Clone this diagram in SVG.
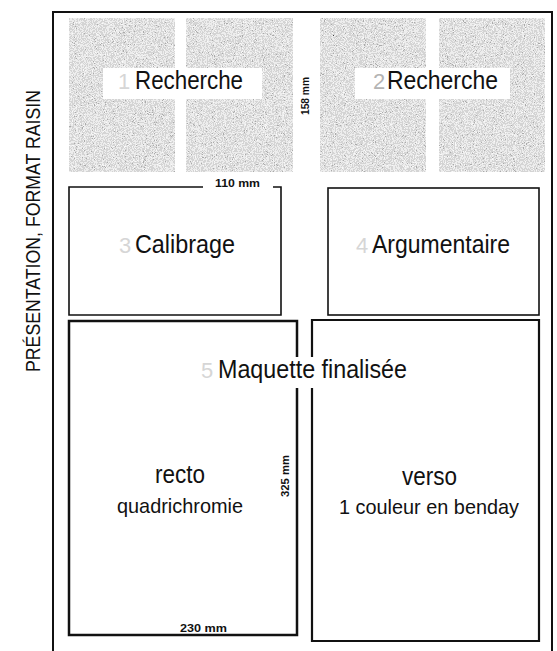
<svg xmlns="http://www.w3.org/2000/svg" width="557" height="651" viewBox="0 0 557 651">
<style>
.lbl{font-family:"Liberation Sans",Arial,sans-serif;fill:#111;}
.num{font-family:"Liberation Sans",Arial,sans-serif;fill:#d6d6d6;font-size:22px;}
.dim{font-family:"Liberation Sans",Arial,sans-serif;font-weight:bold;fill:#111;font-size:11px;}
.box{fill:none;stroke:#111;}
.grey{filter:url(#stipple);}
</style>
<defs>
<filter id="stipple" x="0" y="0" width="1" height="1" filterUnits="objectBoundingBox">
<feTurbulence type="fractalNoise" baseFrequency="1.1" numOctaves="2" seed="7" result="t"/>
<feColorMatrix in="t" type="saturate" values="0" result="g"/>
<feComponentTransfer in="g">
<feFuncR type="discrete" tableValues="0.05 0.4 0.66 0.85 0.96 1"/>
<feFuncG type="discrete" tableValues="0.05 0.4 0.66 0.85 0.96 1"/>
<feFuncB type="discrete" tableValues="0.05 0.4 0.66 0.85 0.96 1"/>
<feFuncA type="linear" slope="0" intercept="1"/>
</feComponentTransfer>
</filter>
</defs>
<rect width="557" height="651" fill="#fff"/>
<g id="frame">
<path d="M53,651 V12 H552 V651" fill="none" stroke="#111" stroke-width="2"/>
<text class="lbl" font-size="20" transform="translate(40,372) rotate(-90)" textLength="282" lengthAdjust="spacingAndGlyphs">PRÉSENTATION, FORMAT RAISIN</text>
</g>
<g id="recherche1">
<rect class="grey" x="69" y="18" width="106" height="154" fill="#bbb"/>
<rect class="grey" x="186" y="18" width="107" height="154" fill="#bbb"/>
<rect x="103" y="68" width="159" height="31" fill="#fff"/>
<text class="num" x="118" y="89">1</text>
<text class="lbl" font-size="26" x="135" y="89" textLength="108" lengthAdjust="spacingAndGlyphs">Recherche</text>
</g>
<g id="recherche2">
<rect class="grey" x="320" y="18" width="106" height="154" fill="#bbb"/>
<rect class="grey" x="439" y="18" width="106" height="154" fill="#bbb"/>
<rect x="355" y="68" width="155" height="31" fill="#fff"/>
<text class="num" x="373" y="89" style="fill:#b4b4b4">2</text>
<text class="lbl" font-size="26" x="387" y="89" textLength="111" lengthAdjust="spacingAndGlyphs">Recherche</text>
</g>
<g id="dim158">
<text class="dim" transform="translate(309,115) rotate(-90)" textLength="38" lengthAdjust="spacingAndGlyphs">158 mm</text>
</g>
<g id="calibrage">
<path class="box" stroke-width="1.6" d="M203,187 H69 V315 H281 V187 H273"/>
<text class="dim" x="215" y="187" textLength="45" lengthAdjust="spacingAndGlyphs">110 mm</text>
<text class="num" x="119" y="253">3</text>
<text class="lbl" font-size="26" x="135" y="253" textLength="100" lengthAdjust="spacingAndGlyphs">Calibrage</text>
</g>
<g id="argumentaire">
<rect class="box" stroke-width="1.6" x="328" y="188" width="211" height="127"/>
<text class="num" x="356" y="253">4</text>
<text class="lbl" font-size="26" x="372" y="253" textLength="138" lengthAdjust="spacingAndGlyphs">Argumentaire</text>
</g>
<g id="recto">
<path class="box" stroke-width="2.5" d="M297,357 V321 H69 V635 H297 V388"/>
<text class="lbl" font-size="25" x="155" y="483" textLength="50" lengthAdjust="spacingAndGlyphs">recto</text>
<text class="lbl" font-size="21" x="117" y="513" textLength="126" lengthAdjust="spacingAndGlyphs">quadrichromie</text>
<text class="dim" transform="translate(289,497) rotate(-90)" textLength="42" lengthAdjust="spacingAndGlyphs">325 mm</text>
<text class="dim" x="180" y="632" textLength="47" lengthAdjust="spacingAndGlyphs">230 mm</text>
</g>
<g id="verso">
<path class="box" stroke-width="2.2" d="M312,357 V320 H539 V641 H312 V388"/>
<text class="lbl" font-size="25" x="402" y="485" textLength="55" lengthAdjust="spacingAndGlyphs">verso</text>
<text class="lbl" font-size="21" x="339" y="514" textLength="180" lengthAdjust="spacingAndGlyphs">1 couleur en benday</text>
</g>
<g id="maquette">
<text class="num" x="201" y="378">5</text>
<text class="lbl" font-size="26" x="218" y="378" textLength="189" lengthAdjust="spacingAndGlyphs">Maquette finalisée</text>
</g>
</svg>
